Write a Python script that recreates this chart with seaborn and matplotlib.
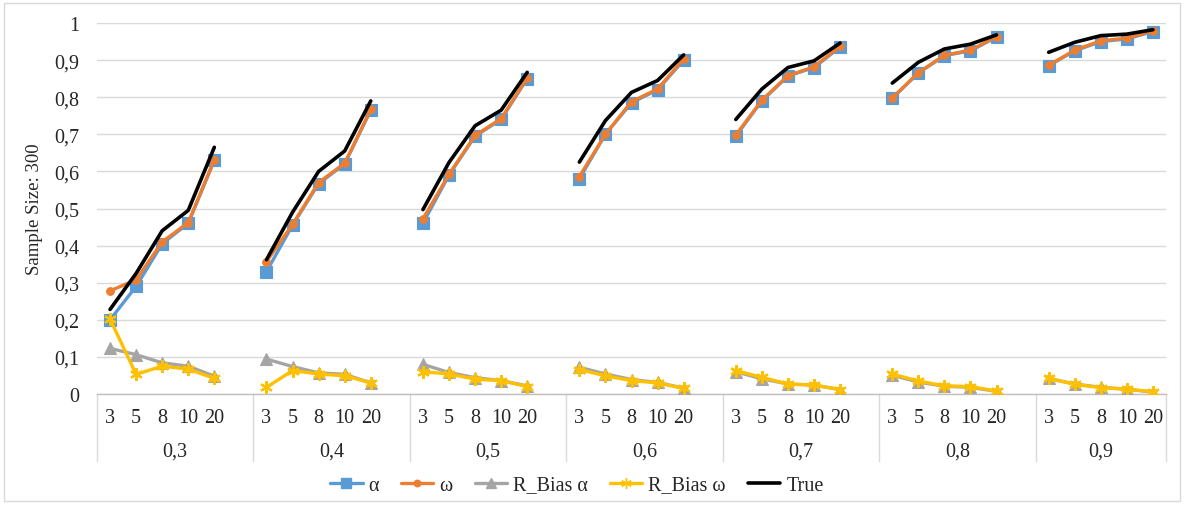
import numpy as np
import pandas as pd
import seaborn as sns
import matplotlib
matplotlib.use("Agg")
import matplotlib.pyplot as plt
from matplotlib.lines import Line2D
from matplotlib.patches import Rectangle
import matplotlib.transforms as mtransforms

sns.set_theme(style="white")
plt.rcParams["font.family"] = ["Liberation Serif", "DejaVu Serif"]

# Outer category (true value) and inner category (number of items)
groups = ["0,3", "0,4", "0,5", "0,6", "0,7", "0,8", "0,9"]
sizes = ["3", "5", "8", "10", "20"]

alpha = [
    0.200, 0.290, 0.405, 0.460, 0.630,
    0.330, 0.455, 0.567, 0.620, 0.765,
    0.460, 0.590, 0.695, 0.740, 0.850,
    0.580, 0.700, 0.785, 0.820, 0.900,
    0.695, 0.790, 0.857, 0.880, 0.935,
    0.797, 0.865, 0.912, 0.925, 0.962,
    0.885, 0.925, 0.950, 0.957, 0.977,
]
omega = [
    0.278, 0.308, 0.410, 0.462, 0.632,
    0.357, 0.457, 0.570, 0.622, 0.767,
    0.472, 0.592, 0.697, 0.742, 0.852,
    0.586, 0.700, 0.788, 0.822, 0.903,
    0.698, 0.792, 0.858, 0.882, 0.937,
    0.798, 0.866, 0.913, 0.927, 0.963,
    0.886, 0.927, 0.952, 0.959, 0.979,
]
r_bias_alpha = [
    0.123, 0.106, 0.084, 0.075, 0.048,
    0.094, 0.074, 0.057, 0.053, 0.030,
    0.080, 0.058, 0.044, 0.036, 0.022,
    0.072, 0.054, 0.039, 0.031, 0.016,
    0.060, 0.041, 0.027, 0.024, 0.012,
    0.051, 0.032, 0.021, 0.018, 0.007,
    0.042, 0.027, 0.018, 0.013, 0.005,
]
r_bias_omega = [
    0.202, 0.053, 0.075, 0.067, 0.042,
    0.018, 0.063, 0.054, 0.049, 0.030,
    0.060, 0.054, 0.040, 0.036, 0.020,
    0.066, 0.049, 0.036, 0.030, 0.015,
    0.063, 0.045, 0.027, 0.024, 0.012,
    0.054, 0.035, 0.022, 0.020, 0.008,
    0.042, 0.026, 0.017, 0.013, 0.006,
]
true_vals = [
    0.228, 0.325, 0.440, 0.495, 0.665,
    0.362, 0.490, 0.600, 0.655, 0.790,
    0.497, 0.624, 0.723, 0.765, 0.867,
    0.625, 0.737, 0.813, 0.845, 0.914,
    0.740, 0.822, 0.880, 0.898, 0.946,
    0.838, 0.894, 0.930, 0.943, 0.968,
    0.921, 0.948, 0.966, 0.970, 0.982,
]

series_names = ["α", "ω", "R_Bias α", "R_Bias ω", "True"]
series_values = [alpha, omega, r_bias_alpha, r_bias_omega, true_vals]
styles = {
    "α": dict(color="#5B9BD5", marker="s", ms=9, lw=2.4),
    "ω": dict(color="#ED7D31", marker="o", ms=5.5, lw=2.4),
    "R_Bias α": dict(color="#A5A5A5", marker="^", ms=8, lw=2.4),
    "R_Bias ω": dict(color="#FFC000", marker=(6, 2, 0), ms=9, lw=2.4),
    "True": dict(color="#000000", marker=None, ms=0, lw=2.6),
}

# Each group occupies six category slots (five sizes plus a blank spacer)
slot = 6
rows = []
for name, vals in zip(series_names, series_values):
    for gi, g in enumerate(groups):
        for ki, s in enumerate(sizes):
            rows.append(dict(series=name, group=g, size=s,
                             pos=gi * slot + ki, value=vals[gi * len(sizes) + ki]))
df = pd.DataFrame(rows)

fig = plt.figure(figsize=(11.84, 5.06), dpi=100)
ax = fig.add_axes([97 / 1184, 1 - 395 / 506, (1166 - 97) / 1184, (395 - 24) / 506])

for name in series_names:
    st = styles[name]
    sub = df[df["series"] == name]
    kw = dict(color=st["color"], lw=st["lw"])
    if st["marker"] is not None:
        kw.update(marker=st["marker"], markersize=st["ms"],
                  markeredgecolor=st["color"], markerfacecolor=st["color"],
                  markeredgewidth=1.6 if name == "R_Bias ω" else 0.8)
    sns.lineplot(data=sub, x="pos", y="value", units="group", estimator=None,
                 ax=ax, legend=False, zorder=3, **kw)

n_slots = slot * (len(groups) - 1) + len(sizes)
ax.set_xlim(-0.5, n_slots - 0.5)
ax.set_ylim(0, 1)
ax.set_yticks(np.arange(0, 1.01, 0.1))
ax.set_yticklabels(["0"] + [f"0,{i}" for i in range(1, 10)] + ["1"], fontsize=14.5)
ax.tick_params(axis="y", length=0, pad=13)
ax.set_xticks([])
ax.set_xlabel("")
ax.set_ylabel("Sample Size: 300", fontsize=13.5, labelpad=8)
ax.grid(axis="y", color="#D9D9D9", lw=1)
ax.grid(axis="x", visible=False)
for side in ["left", "right", "top"]:
    ax.spines[side].set_visible(False)
ax.spines["bottom"].set_color("#BFBFBF")
ax.spines["bottom"].set_linewidth(1)

# Two-level category axis
trans = mtransforms.blended_transform_factory(ax.transData, ax.transAxes)
for gi, g in enumerate(groups):
    for ki, s in enumerate(sizes):
        ax.text(gi * slot + ki, -0.062, s, transform=trans, ha="center",
                va="center", fontsize=14.5, color="#262626")
    last = slot - 1 if gi < len(groups) - 1 else len(sizes) - 1
    ax.text(gi * slot + last / 2, -0.155, g, transform=trans, ha="center",
            va="center", fontsize=14.5, color="#262626")
bounds = [gi * slot - 0.5 for gi in range(len(groups))] + [n_slots - 0.5]
for b in bounds:
    ax.plot([b, b], [0, -0.18], transform=trans, color="#D9D9D9", lw=1,
            clip_on=False)

handles = []
for name in series_names:
    st = styles[name]
    if st["marker"] is None:
        handles.append(Line2D([], [], color=st["color"], lw=st["lw"]))
    else:
        handles.append(Line2D([], [], color=st["color"], lw=st["lw"],
                              marker=st["marker"], markersize=st["ms"] * 0.85,
                              markeredgecolor=st["color"],
                              markerfacecolor=st["color"]))
fig.legend(handles, series_names, loc="center", bbox_to_anchor=(577 / 1184, 1 - 486 / 506),
           ncol=5, frameon=False, fontsize=14.5, handlelength=1.6, handletextpad=0.3,
           columnspacing=1.1, labelcolor="#262626")

fig.patches.append(Rectangle((4 / 1184, 4 / 506), 1 - 8 / 1184, 1 - 8 / 506,
                             transform=fig.transFigure, fill=False,
                             edgecolor="#D9D9D9", lw=1))

fig.savefig("out.png", dpi=100)
